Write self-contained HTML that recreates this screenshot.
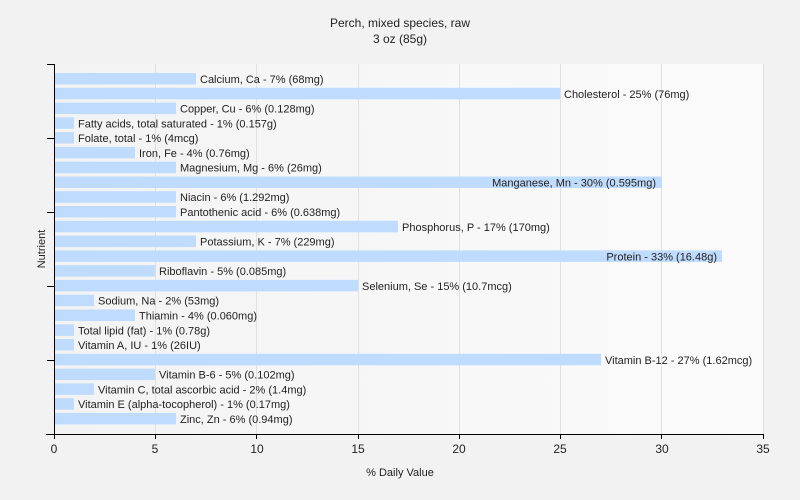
<!DOCTYPE html>
<html><head><meta charset="utf-8"><style>
html,body{margin:0;padding:0;background:#f2f2f2;}
svg{display:block;font-family:"Liberation Sans",sans-serif;}
</style></head><body>
<svg width="800" height="500" viewBox="0 0 800 500" xmlns="http://www.w3.org/2000/svg">
<defs><linearGradient id="g" x1="0" y1="0" x2="1" y2="0"><stop offset="0" stop-color="#f3f3f3"/><stop offset="1" stop-color="#fbfbfb"/></linearGradient></defs>
<rect x="0" y="0" width="800" height="500" fill="#f2f2f2"/>
<rect x="54" y="64" width="709" height="370" fill="url(#g)"/>
<g stroke="#e0e0e0" stroke-width="1">
<line x1="155.5" y1="64" x2="155.5" y2="434"/><line x1="256.5" y1="64" x2="256.5" y2="434"/><line x1="358.5" y1="64" x2="358.5" y2="434"/><line x1="459.5" y1="64" x2="459.5" y2="434"/><line x1="560.5" y1="64" x2="560.5" y2="434"/><line x1="661.5" y1="64" x2="661.5" y2="434"/><line x1="763.5" y1="64" x2="763.5" y2="434"/>
</g>
<text x="400" y="27" font-size="12" text-anchor="middle" fill="#222">Perch, mixed species, raw</text>
<text x="400" y="43" font-size="12" text-anchor="middle" fill="#222">3 oz (85g)</text>
<g fill="#bfdbfd">
<rect x="55" y="73" width="141" height="11.5"/>
<rect x="55" y="87.8" width="505" height="11.5"/>
<rect x="55" y="102.6" width="121" height="11.5"/>
<rect x="55" y="117.3" width="19" height="11.5"/>
<rect x="55" y="132.1" width="19" height="11.5"/>
<rect x="55" y="146.9" width="80" height="11.5"/>
<rect x="55" y="161.7" width="121" height="11.5"/>
<rect x="55" y="176.5" width="607" height="11.5"/>
<rect x="55" y="191.2" width="121" height="11.5"/>
<rect x="55" y="206" width="121" height="11.5"/>
<rect x="55" y="220.8" width="343" height="11.5"/>
<rect x="55" y="235.6" width="141" height="11.5"/>
<rect x="55" y="250.4" width="667" height="11.5"/>
<rect x="55" y="265.1" width="100" height="11.5"/>
<rect x="55" y="279.9" width="303" height="11.5"/>
<rect x="55" y="294.7" width="39" height="11.5"/>
<rect x="55" y="309.5" width="80" height="11.5"/>
<rect x="55" y="324.3" width="19" height="11.5"/>
<rect x="55" y="339" width="19" height="11.5"/>
<rect x="55" y="353.8" width="546" height="11.5"/>
<rect x="55" y="368.6" width="100" height="11.5"/>
<rect x="55" y="383.4" width="39" height="11.5"/>
<rect x="55" y="398.2" width="19" height="11.5"/>
<rect x="55" y="412.9" width="121" height="11.5"/>
</g>
<g font-size="11" fill="#222">
<text x="200" y="83">Calcium, Ca - 7% (68mg)</text>
<text x="564" y="97.8">Cholesterol - 25% (76mg)</text>
<text x="180" y="112.6">Copper, Cu - 6% (0.128mg)</text>
<text x="78" y="127.3">Fatty acids, total saturated - 1% (0.157g)</text>
<text x="78" y="142.1">Folate, total - 1% (4mcg)</text>
<text x="139" y="156.9">Iron, Fe - 4% (0.76mg)</text>
<text x="180" y="171.7">Magnesium, Mg - 6% (26mg)</text>
<text x="656" y="186.5" text-anchor="end">Manganese, Mn - 30% (0.595mg)</text>
<text x="180" y="201.2">Niacin - 6% (1.292mg)</text>
<text x="180" y="216">Pantothenic acid - 6% (0.638mg)</text>
<text x="402" y="230.8">Phosphorus, P - 17% (170mg)</text>
<text x="200" y="245.6">Potassium, K - 7% (229mg)</text>
<text x="717" y="260.4" text-anchor="end">Protein - 33% (16.48g)</text>
<text x="159" y="275.1">Riboflavin - 5% (0.085mg)</text>
<text x="362" y="289.9">Selenium, Se - 15% (10.7mcg)</text>
<text x="98" y="304.7">Sodium, Na - 2% (53mg)</text>
<text x="139" y="319.5">Thiamin - 4% (0.060mg)</text>
<text x="78" y="334.3">Total lipid (fat) - 1% (0.78g)</text>
<text x="78" y="349">Vitamin A, IU - 1% (26IU)</text>
<text x="605" y="363.8">Vitamin B-12 - 27% (1.62mcg)</text>
<text x="159" y="378.6">Vitamin B-6 - 5% (0.102mg)</text>
<text x="98" y="393.4">Vitamin C, total ascorbic acid - 2% (1.4mg)</text>
<text x="78" y="408.2">Vitamin E (alpha-tocopherol) - 1% (0.17mg)</text>
<text x="180" y="422.9">Zinc, Zn - 6% (0.94mg)</text>
</g>
<g stroke="#000" stroke-width="1">
<line x1="54.5" y1="64" x2="54.5" y2="434"/>
<line x1="46" y1="434.5" x2="763" y2="434.5"/>
<line x1="47" y1="64.5" x2="54" y2="64.5"/>
<line x1="47" y1="138.5" x2="54" y2="138.5"/>
<line x1="47" y1="212.5" x2="54" y2="212.5"/>
<line x1="47" y1="286.5" x2="54" y2="286.5"/>
<line x1="47" y1="360.5" x2="54" y2="360.5"/>
<line x1="54.5" y1="434" x2="54.5" y2="439"/>
<line x1="155.5" y1="434" x2="155.5" y2="439"/>
<line x1="256.5" y1="434" x2="256.5" y2="439"/>
<line x1="358.5" y1="434" x2="358.5" y2="439"/>
<line x1="459.5" y1="434" x2="459.5" y2="439"/>
<line x1="560.5" y1="434" x2="560.5" y2="439"/>
<line x1="661.5" y1="434" x2="661.5" y2="439"/>
<line x1="763.5" y1="434" x2="763.5" y2="439"/>
</g>
<g font-size="12" fill="#222" text-anchor="middle">
<text x="54" y="453">0</text><text x="155" y="453">5</text><text x="257" y="453">10</text><text x="358" y="453">15</text><text x="459" y="453">20</text><text x="560" y="453">25</text><text x="662" y="453">30</text><text x="763" y="453">35</text>
</g>
<text x="400" y="476" font-size="11" text-anchor="middle" fill="#222">% Daily Value</text>
<text x="0" y="0" font-size="11" text-anchor="middle" fill="#222" transform="translate(45,249) rotate(-90)">Nutrient</text>
</svg>
</body></html>
